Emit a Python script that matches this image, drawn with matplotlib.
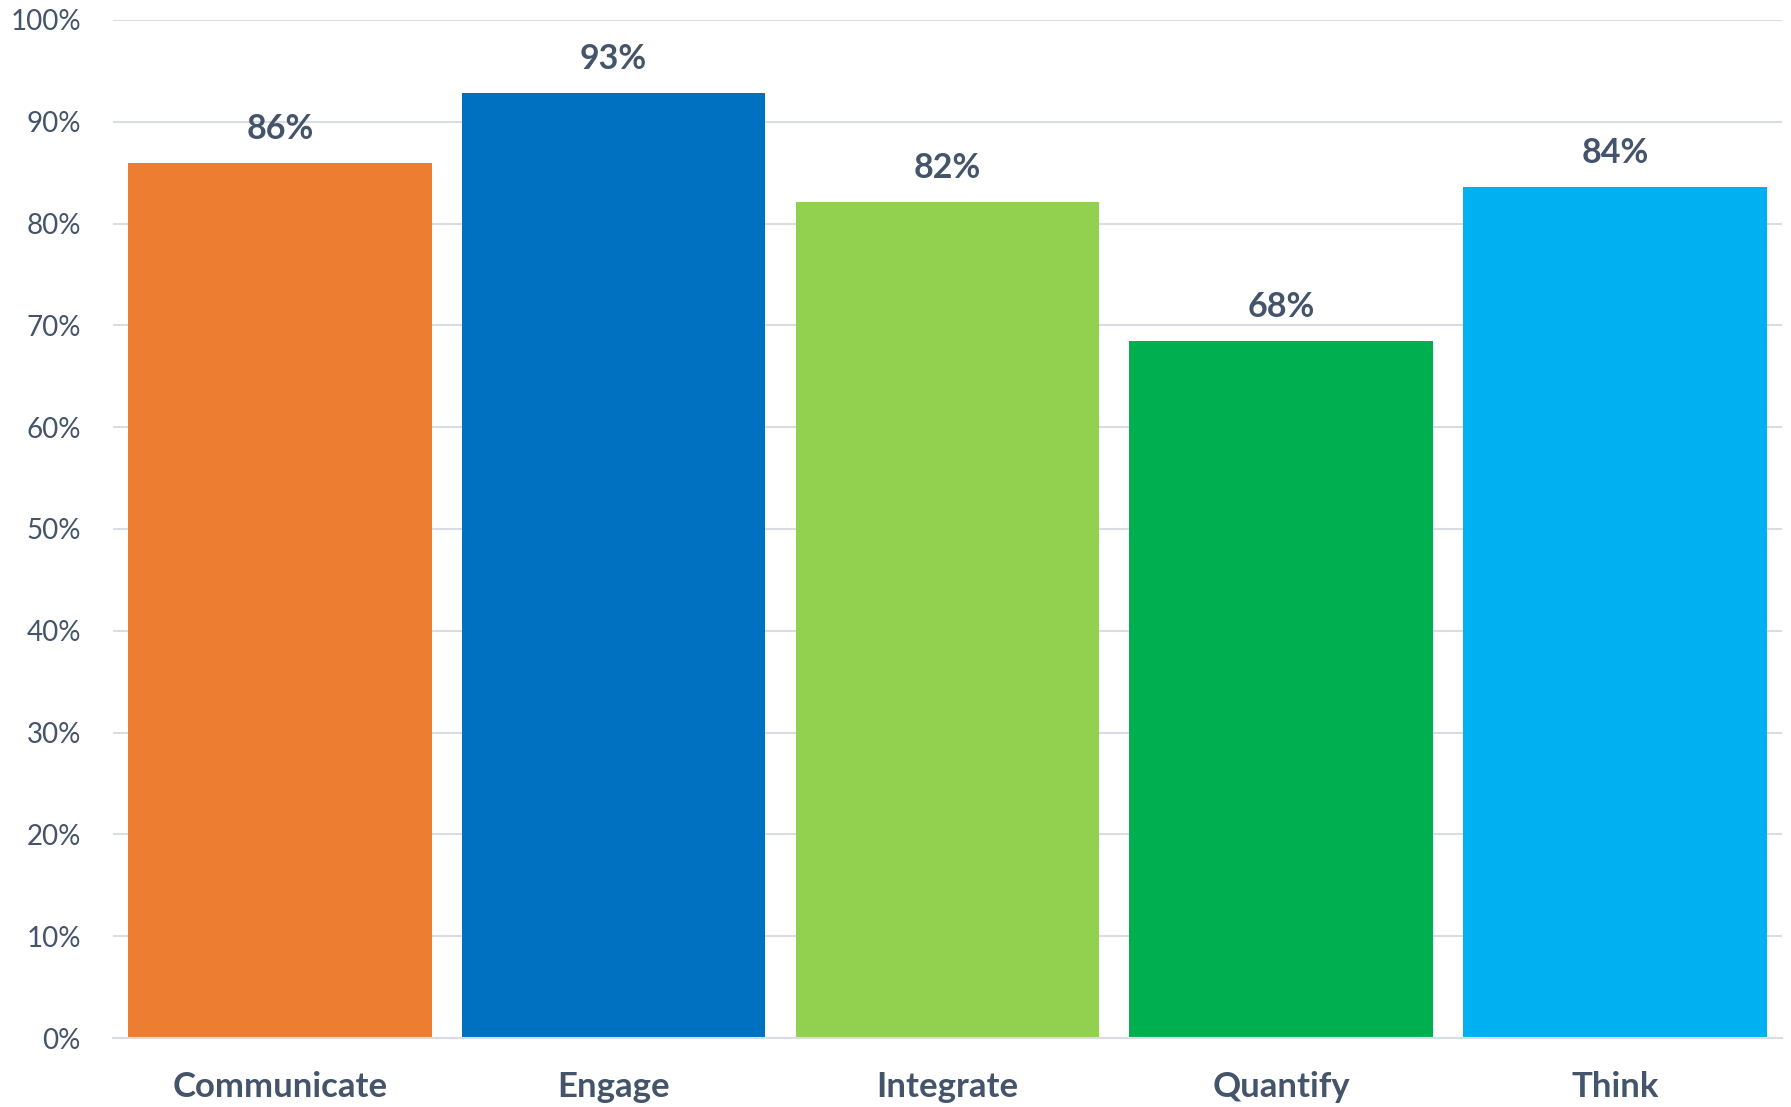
import matplotlib.pyplot as plt
from matplotlib.ticker import PercentFormatter

categories = ['Communicate', 'Engage', 'Integrate', 'Quantify', 'Think']
values = [85.9, 92.8, 82.1, 68.5, 83.6]
colors = ['#ED7D31', '#0070C0', '#92D050', '#00B050', '#00B0F0']
y_ticks = [0, 10, 20, 30, 40, 50, 60, 70, 80, 90, 100]

text_color = '#44546A'
plt.rcParams['font.family'] = ['Lato', 'DejaVu Sans']

fig = plt.figure(figsize=(17.91, 11.07), dpi=100)
ax = fig.add_axes([0.063, 0.0623, 0.932, 0.9197])

x = range(len(categories))
bars = ax.bar(x, values, width=0.91, color=colors, zorder=2)

# подписи над столбиками
for b, v in zip(bars, values):
    ax.annotate(f"{round(v)}%", (b.get_x() + b.get_width() / 2, v),
                xytext=(0, 13), textcoords='offset points',
                ha='center', va='bottom', fontsize=24.5, fontweight='bold',
                color=text_color)

ax.set_xlim(-0.5, len(categories) - 0.5)
ax.set_ylim(0, 100)
ax.set_yticks(y_ticks)
ax.yaxis.set_major_formatter(PercentFormatter(decimals=0))
ax.set_xticks(list(x))
ax.set_xticklabels(categories, fontsize=25, fontweight='bold', color=text_color)
ax.tick_params(axis='x', length=0, pad=24)
ax.tick_params(axis='y', length=0, pad=23, labelsize=20, labelcolor=text_color)

ax.grid(axis='y', color='#D9DDE3', linewidth=1.5, zorder=0)
for s in ['top', 'right', 'left']:
    ax.spines[s].set_visible(False)
ax.spines['bottom'].set_color('#D9DDE3')
ax.spines['bottom'].set_linewidth(1.5)

fig.savefig('out.png', dpi=100)
